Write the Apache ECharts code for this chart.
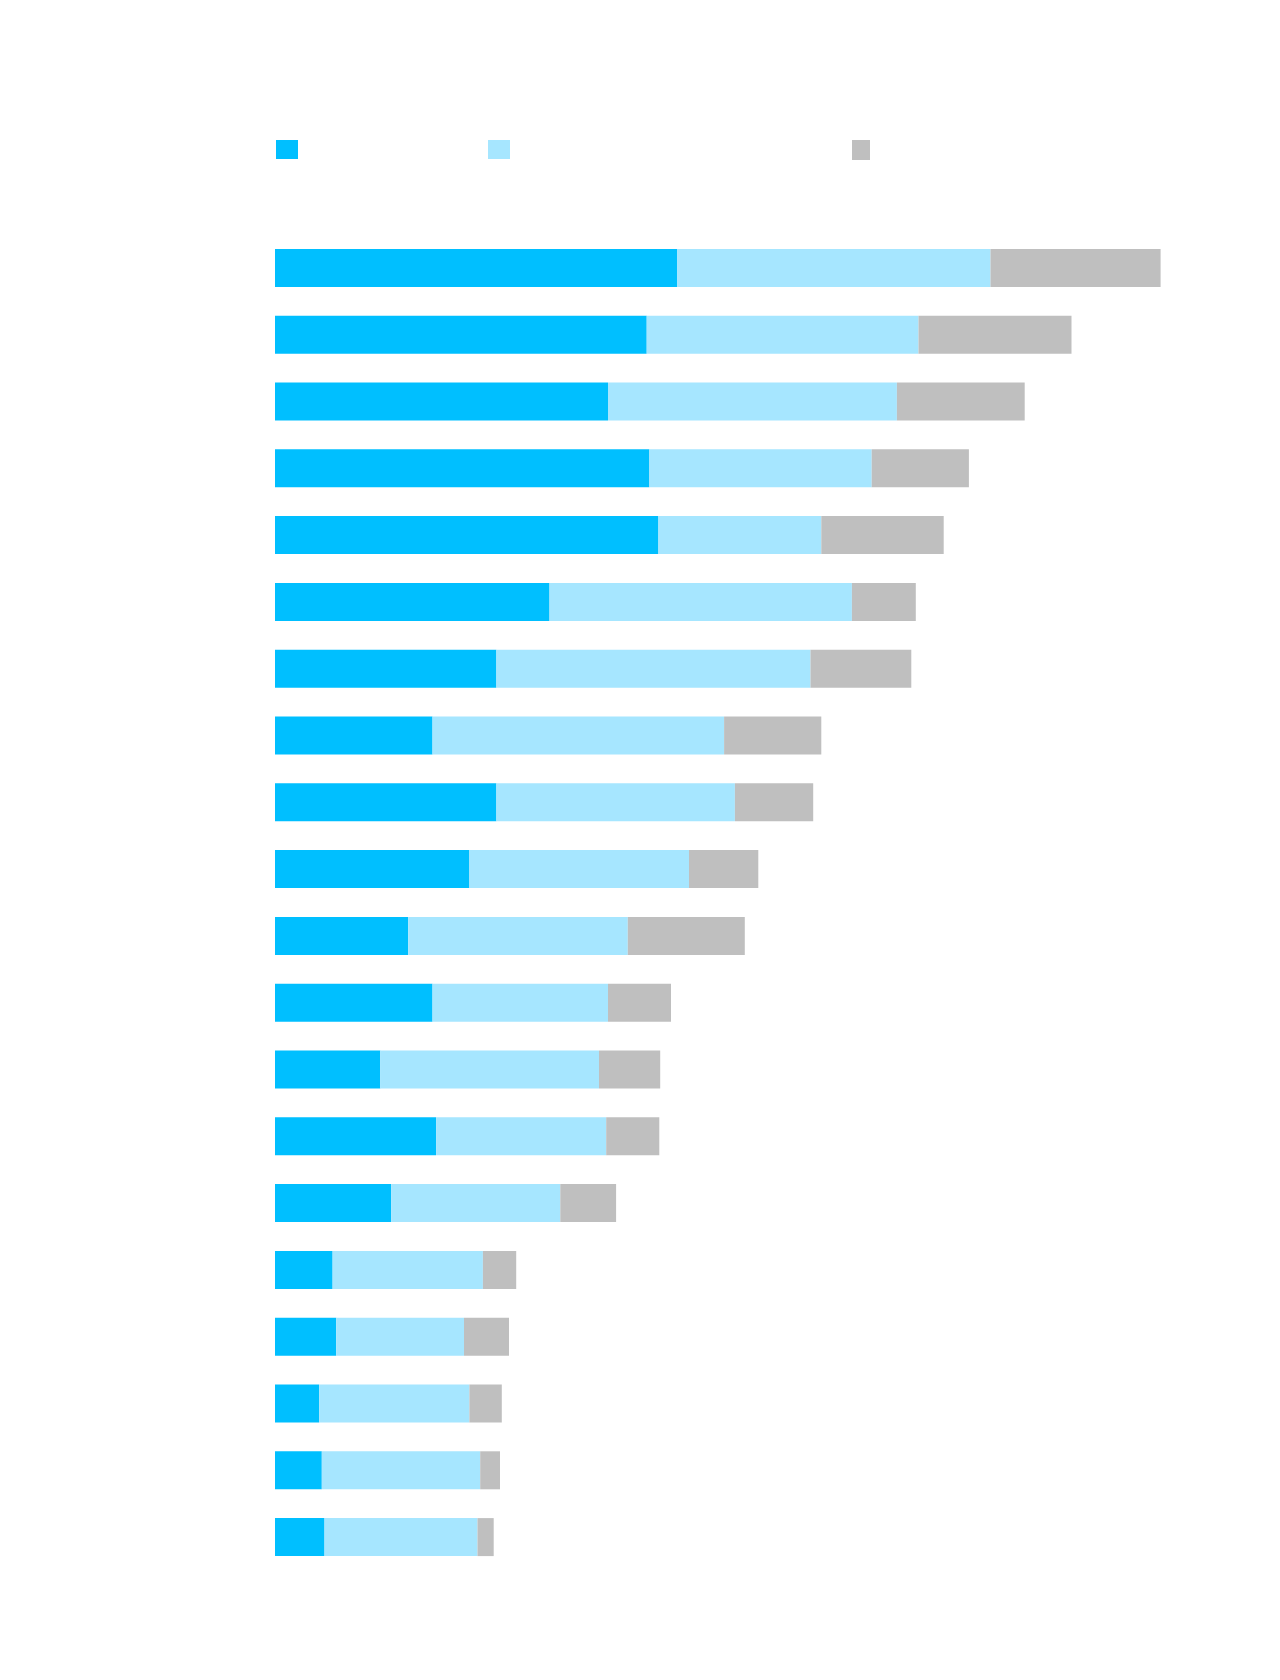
<!DOCTYPE html>
<html>
<head>
<meta charset="utf-8">
<style>
  html, body { margin: 0; padding: 0; background: #ffffff; }
  #chart { width: 1280px; height: 1680px; }
</style>
<script src="https://cdn.jsdelivr.net/npm/echarts@6/dist/echarts.min.js"></script>
</head>
<body>
<div id="chart"></div>
<script>
// Categories (labels are not visible in the reference)
const categories = ['1','2','3','4','5','6','7','8','9','10','11','12','13','14','15','16','17','18','19','20'];
const seriesNames = ['A', 'B', 'C'];
const seriesA = [44.7, 41.3, 37.0, 41.6, 42.6, 30.5, 24.6, 17.5, 24.6, 21.6, 14.8, 17.5, 11.7, 17.9, 12.9, 6.4, 6.8, 4.9, 5.2, 5.5];
const seriesB = [34.8, 30.2, 32.1, 24.7, 18.1, 33.6, 34.9, 32.4, 26.5, 24.4, 24.4, 19.5, 24.3, 18.9, 18.8, 16.7, 14.2, 16.7, 17.6, 17.0];
const seriesC = [18.9, 17.0, 14.2, 10.8, 13.6, 7.1, 11.2, 10.8, 8.7, 7.7, 13.0, 7.0, 6.8, 5.9, 6.2, 3.7, 5.0, 3.6, 2.2, 1.8];
const colors = ['#00BFFF', '#A6E6FF', '#BFBFBF'];

const chart = echarts.init(document.getElementById('chart'), null, { renderer: 'canvas' });

function legendFor(i, left, w, h) {
  return {
    data: [seriesNames[i]],
    left: left, top: 140,
    padding: 0,
    itemWidth: w, itemHeight: h,
    icon: 'rect',
    formatter: function () { return ''; },
    textStyle: { color: '#ffffff' },
    selectedMode: false
  };
}

const option = {
  backgroundColor: '#ffffff',
  animation: false,
  legend: [
    legendFor(0, 276, 22, 19),
    legendFor(1, 488, 22, 19),
    legendFor(2, 852, 18, 20)
  ],
  grid: { left: 275, top: 234.5, width: 900, height: 1336, containLabel: false },
  xAxis: {
    type: 'value', min: 0, max: 100,
    show: false
  },
  yAxis: {
    type: 'category', data: categories, inverse: true,
    axisLine: { show: false }, axisTick: { show: false },
    axisLabel: { show: false }, splitLine: { show: false }
  },
  series: [
    { name: seriesNames[0], type: 'bar', stack: 'total', data: seriesA, barWidth: 38, itemStyle: { color: colors[0] } },
    { name: seriesNames[1], type: 'bar', stack: 'total', data: seriesB, barWidth: 38, itemStyle: { color: colors[1] } },
    { name: seriesNames[2], type: 'bar', stack: 'total', data: seriesC, barWidth: 38, itemStyle: { color: colors[2] } }
  ]
};
chart.setOption(option);
</script>
</body>
</html>
